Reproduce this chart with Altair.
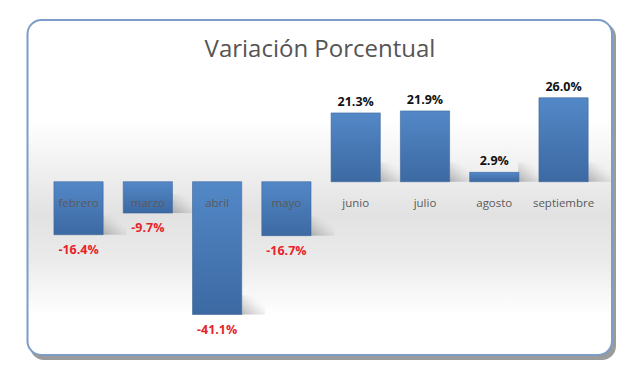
import altair as alt
import pandas as pd

TITLE = "Variación Porcentual"
meses = ["febrero", "marzo", "abril", "mayo", "junio", "julio", "agosto", "septiembre"]
variacion = [-16.4, -9.7, -41.1, -16.7, 21.3, 21.9, 2.9, 26.0]

df = pd.DataFrame({
    "mes": meses,
    "valor": variacion,
    "etiqueta": [f"{v:.1f}%" for v in variacion],
})

W, H = 624, 375
FONT = "Open Sans"

xs = alt.X("mes:N", sort=meses, axis=None,
           scale=alt.Scale(range=[35.9, 590.2], paddingInner=0.29, paddingOuter=0.145))
yscale = alt.Scale(domain=[-45, 30], range=[319.1, 76.8], nice=False, zero=False)
ys = alt.Y("valor:Q", axis=None, scale=yscale)

one = pd.DataFrame({"a": [0]})

frame_shadow = alt.Chart(one).mark_rect(
    cornerRadius=14, fill="#8a8a8a", opacity=0.85
).encode(x=alt.value(22), x2=alt.value(608), y=alt.value(15), y2=alt.value(352))

frame = alt.Chart(one).mark_rect(
    cornerRadius=14, stroke="#7d9cc6", strokeWidth=2,
    fill=alt.LinearGradient(
        gradient="linear", x1=0, x2=0, y1=0, y2=1,
        stops=[
            alt.GradientStop(color="#ffffff", offset=0),
            alt.GradientStop(color="#ffffff", offset=0.3),
            alt.GradientStop(color="#e2e2e2", offset=0.58),
            alt.GradientStop(color="#ebebeb", offset=0.72),
            alt.GradientStop(color="#ffffff", offset=0.88),
            alt.GradientStop(color="#ffffff", offset=1),
        ],
    ),
).encode(x=alt.value(19.5), x2=alt.value(604), y=alt.value(12), y2=alt.value(347))

base = alt.Chart(df).encode(x=xs)

# soft perspective shadow at the foot of every bar
shadows = base.transform_calculate(
    fondo="min(datum.valor, 0)", fondo2="min(datum.valor, 0) + 6"
).mark_bar(
    size=24, xOffset=36,
    fill=alt.LinearGradient(
        gradient="linear", x1=0, x2=1, y1=1, y2=0,
        stops=[alt.GradientStop(color="rgba(120,120,120,0.55)", offset=0),
               alt.GradientStop(color="rgba(150,150,150,0.25)", offset=0.4),
               alt.GradientStop(color="rgba(200,200,200,0)", offset=0.75)],
    ),
).encode(y=alt.Y("fondo:Q", axis=None, scale=yscale), y2="fondo2:Q")

bars = base.mark_bar(
    stroke="#3b6598", strokeWidth=0.6,
    fill=alt.LinearGradient(
        gradient="linear", x1=0, x2=0, y1=0, y2=1,
        stops=[alt.GradientStop(color="#5388c7", offset=0),
               alt.GradientStop(color="#3c69a2", offset=1)],
    ),
).encode(y=ys, y2=alt.datum(0))

pos_lbl = base.transform_filter("datum.valor >= 0").mark_text(
    font=FONT, fontSize=12.5, fontWeight="bold", color="#111111",
    baseline="middle", dy=-11,
).encode(y=ys, text="etiqueta:N")

neg_lbl = base.transform_filter("datum.valor < 0").mark_text(
    font=FONT, fontSize=12.5, fontWeight="bold", color="#e8242b",
    baseline="middle", dy=15,
).encode(y=ys, text="etiqueta:N")

cat_lbl = base.mark_text(
    font=FONT, fontSize=11.5, color="#5a5a5a", baseline="middle", dy=22,
).encode(y=alt.datum(0), text="mes:N")

title = alt.Chart(pd.DataFrame({"t": [TITLE]})).mark_text(
    font=FONT, fontSize=24, color="#555555", baseline="middle", align="center",
).encode(x=alt.value(312), y=alt.value(42), text="t:N")

chart = alt.layer(frame_shadow, frame, shadows, bars, pos_lbl, neg_lbl, cat_lbl, title).properties(
    width=W, height=H, autosize=alt.AutoSizeParams(type="none"), padding=0,
    background="white",
).configure_view(stroke=None)

chart.save("out.html", embed_options={"renderer": "svg", "actions": False})
